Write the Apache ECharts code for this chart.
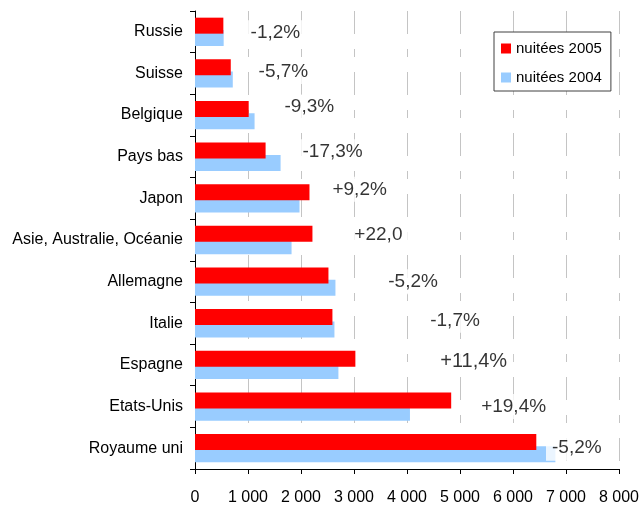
<!DOCTYPE html>
<html>
<head>
<meta charset="utf-8">
<script src="https://cdn.jsdelivr.net/npm/echarts@6/dist/echarts.min.js"></script>
<style>html,body{margin:0;padding:0;background:#fff;}#c{width:642px;height:506px;}</style>
</head>
<body>
<div id="c"></div>
<script>
const categories = ['Royaume uni','Etats-Unis','Espagne','Italie','Allemagne','Asie, Australie, Océanie','Japon','Pays bas','Belgique','Suisse','Russie'];
const nuitees2005 = [6440, 4834, 3026, 2593, 2518, 2216, 2160, 1332, 1013, 675, 535];
const nuitees2004 = [6800, 4056, 2706, 2631, 2650, 1822, 1972, 1615, 1124, 713, 541];
const changeLabels = ['-5,2%','+19,4%','+11,4%','-1,7%','-5,2%','+22,0','+9,2%','-17,3%','-9,3%','-5,7%','-1,2%'];
const labelAnchor = [6623, 5286, 4514, 4325, 3534, 2894, 2480, 1915, 1576, 1087, 936];
const labelDy = [0, 0, -3, -3, 0, -5, -9, -5, -8, -2, 1];
const labelSize = [19, 19, 20, 19, 19, 19, 19, 19, 19, 19, 19];
const xTicks = {min: 0, max: 8000, interval: 1000};

const FONT = "'Liberation Sans', Arial, sans-serif";
const chart = echarts.init(document.getElementById('c'), null, {renderer: 'canvas'});
chart.setOption({
  animation: false,
  backgroundColor: '#fff',
  textStyle: {fontFamily: FONT},
  grid: {left: 195, right: 22, top: 11, bottom: 35, containLabel: false},
  legend: {
    data: ['nuitées 2005', 'nuitées 2004'],
    orient: 'vertical',
    left: 494, top: 32,
    icon: 'rect', itemWidth: 10, itemHeight: 10, itemGap: 14,
    padding: [9, 9, 6, 7],
    borderColor: '#404040', borderWidth: 1, backgroundColor: '#fff',
    textStyle: {fontFamily: FONT, fontSize: 15, color: '#000'}
  },
  xAxis: {
    type: 'value', min: xTicks.min, max: xTicks.max, interval: xTicks.interval,
    axisLine: {show: true, lineStyle: {color: '#000', width: 1}},
    axisTick: {show: true, length: 5, lineStyle: {color: '#000'}},
    axisLabel: {fontFamily: FONT, fontSize: 16, color: '#000', margin: 21,
      formatter: v => v === 0 ? '0' : String(v).replace(/\B(?=(\d{3})+(?!\d))/g, ' ')},
    splitLine: {show: true, lineStyle: {color: '#c4c4c4', width: 1, type: [23, 15, 8, 15]}}
  },
  yAxis: {
    type: 'category', data: categories,
    axisLine: {show: true, lineStyle: {color: '#000', width: 1}},
    axisTick: {show: true, length: 5, lineStyle: {color: '#000'}},
    axisLabel: {fontFamily: FONT, fontSize: 16, color: '#000', margin: 12}
  },
  series: [
    {
      name: 'nuitées 2005', type: 'bar', data: nuitees2005,
      barWidth: 16, barGap: '-23%', z: 3,
      itemStyle: {color: '#FF0000'}
    },
    {
      name: 'nuitées 2004', type: 'bar', data: nuitees2004,
      barWidth: 16, barGap: '-23%', z: 2,
      itemStyle: {color: '#99CCFF'}
    },
    {
      name: 'labels', type: 'scatter', symbolSize: 0, silent: true,
      data: categories.map((c, i) => ({
        value: [labelAnchor[i], c],
        label: {offset: [0, labelDy[i]], fontSize: labelSize[i]}
      })),
      label: {
        show: true, position: 'right', distance: 0,
        formatter: p => changeLabels[p.dataIndex],
        fontFamily: FONT, color: '#000',
        backgroundColor: '#fff', padding: [3, 6, 3, 6]
      },
      z: 5
    }
  ]
});
</script>
</body>
</html>
